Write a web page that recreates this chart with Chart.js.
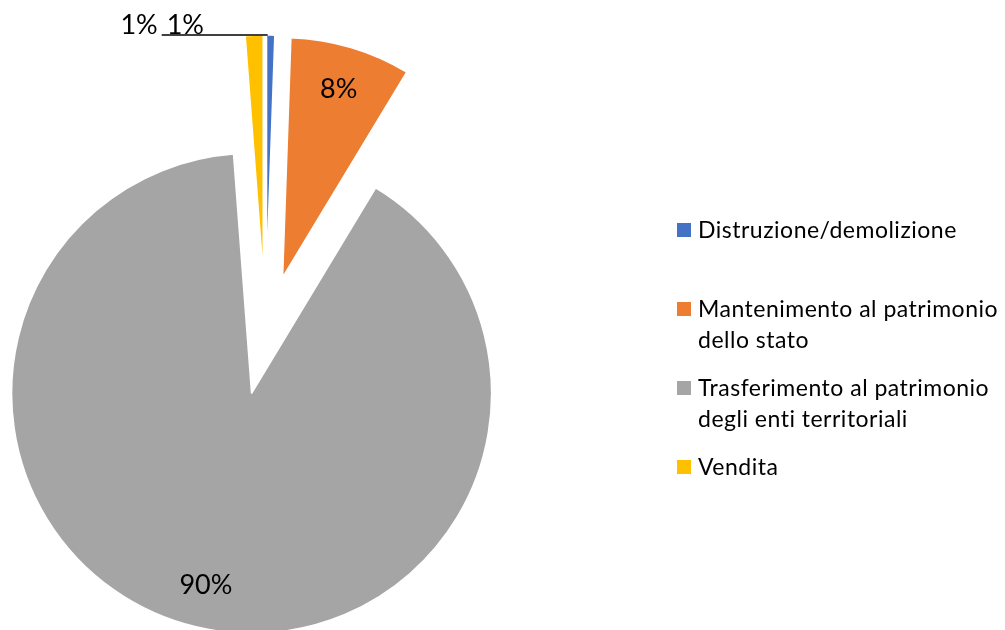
<!DOCTYPE html>
<html>
<head>
<meta charset="utf-8">
<script src="https://cdn.jsdelivr.net/npm/chart.js@4/dist/chart.umd.min.js"></script>
<style>
  body { margin: 0; background: #fff; }
  #wrap { position: relative; width: 1005px; height: 630px; overflow: hidden; }
  #legend { position: absolute; left: 677px; top: 0; font-family: Lato, "Open Sans", sans-serif; font-size: 23px; letter-spacing: 0.5px; color: #000; }
  .item { position: absolute; left: 0; white-space: nowrap; line-height: 31px; }
  .box { position: absolute; left: 0; top: 9px; width: 14px; height: 14px; }
  .txt { position: absolute; left: 21px; top: 0; }
</style>
</head>
<body>
<div id="wrap">
  <canvas id="myChart" width="1005" height="630"></canvas>
  <div id="legend"></div>
</div>
<script>
"use strict";

// categories and values (share of total, %)
const categories = ['Distruzione/demolizione', 'Mantenimento al patrimonio dello stato', 'Trasferimento al patrimonio degli enti territoriali', 'Vendita'];
const legendLines = [['Distruzione/demolizione'], ['Mantenimento al patrimonio', 'dello stato'], ['Trasferimento al patrimonio', 'degli enti territoriali'], ['Vendita']];
const values = [0.55, 8.1, 90.15, 1.2];
const colors = ['#4472C4', '#ED7D31', '#A5A5A5', '#FFC000'];

const EXPLODE = 60;
const total = values.reduce((a, b) => a + b, 0);

function pctText(i) {
    return Math.round(values[i] / total * 100) + '%';
}

// move every slice out of the centre by the same distance (like an exploded excel pie)
const explode = {
    id: 'explode',
    afterDatasetUpdate(chart, args) {
        chart.getDatasetMeta(args.index).data.forEach((arc) => {
            const mid = (arc.startAngle + arc.endAngle) / 2;
            arc.x += Math.cos(mid) * EXPLODE;
            arc.y += Math.sin(mid) * EXPLODE;
        });
    }
};

const pctLabels = {
    id: 'pctLabels',
    afterDatasetsDraw(chart) {
        const ctx = chart.ctx;
        const arcs = chart.getDatasetMeta(0).data;
        ctx.save();
        ctx.fillStyle = '#000';
        ctx.font = '27px Lato, "Open Sans", sans-serif';
        ctx.textBaseline = 'middle';
        ctx.textAlign = 'center';
        arcs.forEach((arc, i) => {
            const mid = (arc.startAngle + arc.endAngle) / 2;
            if (values[i] / total > 0.05) {
                const d = arc.outerRadius * 0.82;
                ctx.fillText(pctText(i), arc.x + Math.cos(mid) * d, arc.y + Math.sin(mid) * d);
            }
        });
        // small slices: labels outside, top left, with leader line to the first slice
        const a0 = arcs[0];
        const m0 = (a0.startAngle + a0.endAngle) / 2;
        const px = a0.x + Math.cos(m0) * a0.outerRadius;
        const py = a0.y + Math.sin(m0) * a0.outerRadius;
        ctx.strokeStyle = '#000';
        ctx.lineWidth = 1.5;
        ctx.beginPath();
        ctx.moveTo(px - 109, py);
        ctx.lineTo(px - 3, py);
        ctx.stroke();
        ctx.textBaseline = 'alphabetic';
        ctx.textAlign = 'left';
        ctx.fillText(pctText(0), px - 104, py - 1);
        ctx.textAlign = 'right';
        ctx.fillText(pctText(3), px - 113, py - 1);
        ctx.restore();
    }
};

const ctx = document.getElementById('myChart').getContext('2d');
const myChart = new Chart(ctx, {
    type: 'pie',
    data: {
        labels: categories,
        datasets: [{
            data: values,
            backgroundColor: colors,
            borderColor: '#ffffff',
            borderWidth: 1.5,
            hoverOffset: 0,
            clip: false
        }]
    },
    options: {
        responsive: false,
        animation: false,
        events: [],
        radius: 240,
        layout: { padding: { left: 0, right: 474, top: 40, bottom: 0 } },
        plugins: {
            legend: { display: false },
            tooltip: { enabled: false }
        }
    },
    plugins: [explode, pctLabels]
});

// legend, one slot of 79px per item
const legend = document.getElementById('legend');
categories.forEach((name, i) => {
    const item = document.createElement('div');
    item.className = 'item';
    item.style.top = (214 + i * 79) + 'px';
    const box = document.createElement('div');
    box.className = 'box';
    box.style.background = colors[i];
    const txt = document.createElement('div');
    txt.className = 'txt';
    txt.innerHTML = legendLines[i].join('<br>');
    item.appendChild(box);
    item.appendChild(txt);
    legend.appendChild(item);
});
</script>
</body>
</html>
